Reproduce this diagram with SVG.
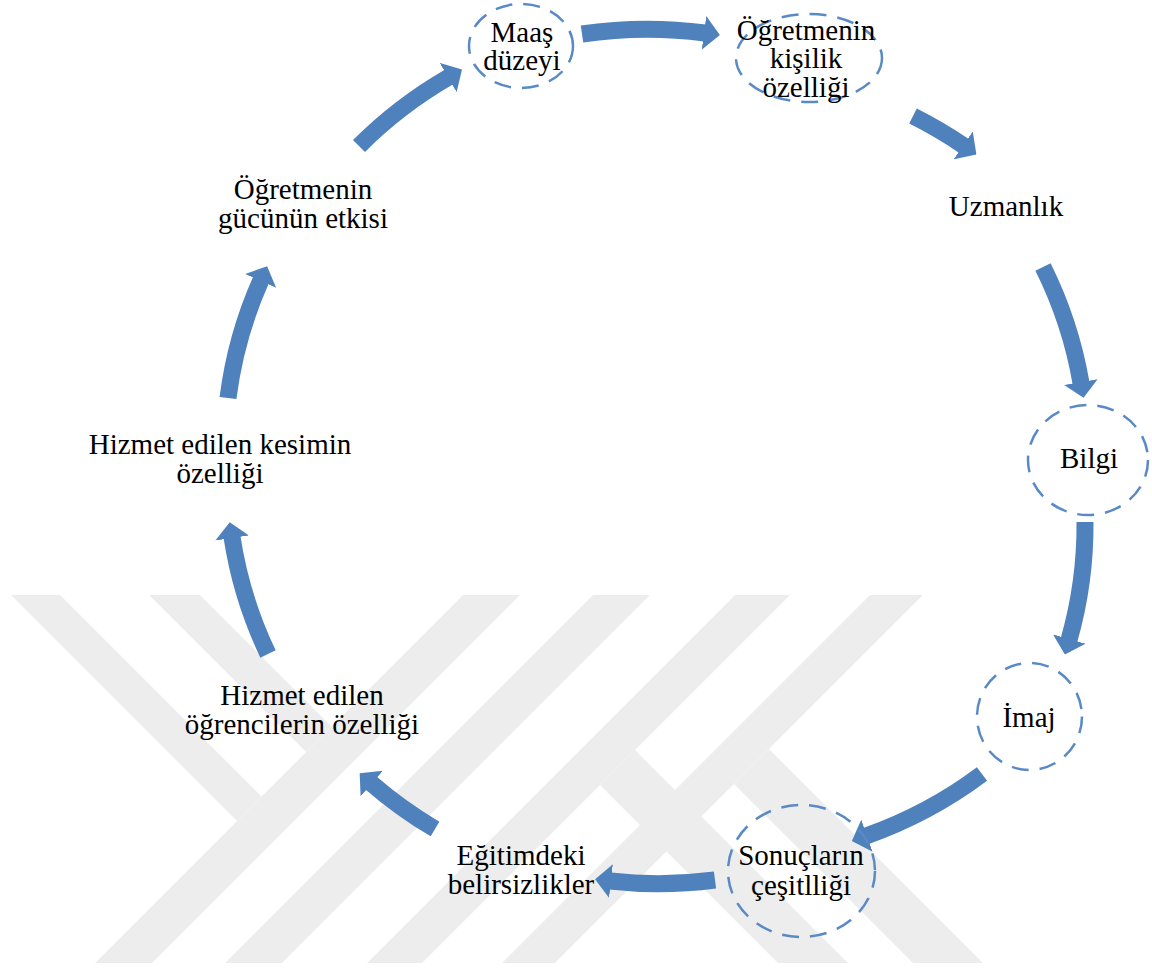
<svg xmlns="http://www.w3.org/2000/svg" width="1152" height="969" viewBox="0 0 1152 969">
<style>
.wm{fill:#ededed}
.ring{fill:none;stroke:#5a8ac6;stroke-width:2.5;stroke-dasharray:17 11}
.lbl{font-family:"Liberation Serif","Times New Roman",serif;font-size:29px;fill:#000;text-anchor:middle}
.arr{fill:none;stroke:#4f81bd;stroke-width:17;marker-end:url(#head)}
</style>
<defs>
<marker id="head" markerUnits="userSpaceOnUse" markerWidth="16" markerHeight="34" viewBox="0 0 16 34" refX="1" refY="17" orient="auto">
<path d="M0,0 L16,17 L0,34 Z" fill="#4f81bd"/>
</marker>
</defs>
<rect width="1152" height="969" fill="#ffffff"/>
<g id="watermark">
<polygon class="wm" points="11,595 60,595 261.5,796.5 237,821"/>
<polygon class="wm" points="149,595 200,595 331.5,726.5 306,752"/>
<polygon class="wm" points="463,595 520,595 152,963 95,963"/>
<polygon class="wm" points="593,595 650,595 282,963 225,963"/>
<polygon class="wm" points="735,595 790,595 422,963 367,963"/>
<polygon class="wm" points="870,595 923,595 555,963 502,963"/>
<polygon class="wm" points="769,749 983,963 913,963 734,784"/>
<polygon class="wm" points="635,750 848,963 778,963 600,785"/>
</g>
<g id="connectors">
<path class="arr" d="M582,34 A433,425 0 0 1 705,33"/>
<path class="arr" d="M913,116 A433,425 0 0 1 964,146"/>
<path class="arr" d="M1043,267 A433,425 0 0 1 1081,383"/>
<path class="arr" d="M1085,522 A433,425 0 0 1 1069,640"/>
<path class="arr" d="M982,774 A433,425 0 0 1 866,836"/>
<path class="arr" d="M715,880 A433,425 0 0 1 610,881"/>
<path class="arr" d="M435,829 A433,425 0 0 1 371,783"/>
<path class="arr" d="M268,654 A433,425 0 0 1 232,537"/>
<path class="arr" d="M228,398 A433,425 0 0 1 261,280"/>
<path class="arr" d="M359,146 A433,425 0 0 1 449,77"/>
</g>
<g id="n-maas">
<ellipse class="ring" cx="521" cy="46" rx="52" ry="42"/>
<text class="lbl" x="522" y="42">Maaş<tspan x="522" dy="28.3">düzeyi</tspan></text>
</g>
<g id="n-kisilik">
<ellipse class="ring" cx="809" cy="58" rx="73" ry="44"/>
<text class="lbl" x="806" y="40">Öğretmenin<tspan x="806" dy="28.3">kişilik</tspan><tspan x="806" dy="28.3">özelliği</tspan></text>
</g>
<g id="n-uzmanlik">
<text class="lbl" x="1006" y="216">Uzmanlık</text>
</g>
<g id="n-bilgi">
<ellipse class="ring" cx="1088" cy="460" rx="60" ry="55"/>
<text class="lbl" x="1089" y="468">Bilgi</text>
</g>
<g id="n-imaj">
<ellipse class="ring" cx="1029.5" cy="716.5" rx="52.5" ry="53.5"/>
<text class="lbl" x="1029" y="727">İmaj</text>
</g>
<g id="n-sonuclar">
<ellipse class="ring" cx="801.5" cy="871" rx="73.5" ry="66"/>
<text class="lbl" x="801" y="865">Sonuçların<tspan x="801" dy="30">çeşitlliği</tspan></text>
</g>
<g id="n-egitim">
<text class="lbl" x="521" y="865">Eğitimdeki<tspan x="521" dy="28.5">belirsizlikler</tspan></text>
</g>
<g id="n-ogrenci">
<text class="lbl" x="302" y="705">Hizmet edilen<tspan x="302" dy="28.5">öğrencilerin özelliği</tspan></text>
</g>
<g id="n-kesim">
<text class="lbl" x="220" y="454">Hizmet edilen kesimin<tspan x="220" dy="29">özelliği</tspan></text>
</g>
<g id="n-guc">
<text class="lbl" x="303" y="199">Öğretmenin<tspan x="303" dy="29">gücünün etkisi</tspan></text>
</g>
</svg>
